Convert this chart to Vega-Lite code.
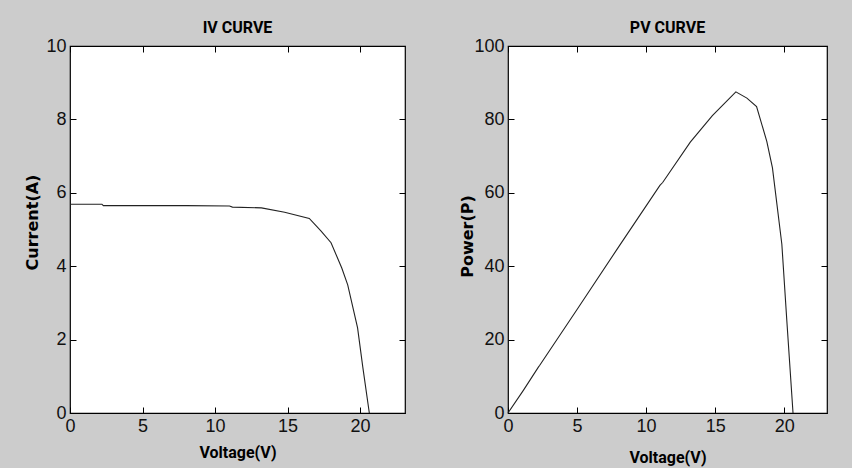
{
  "$schema": "https://vega.github.io/schema/vega-lite/v6.json",
  "background": "#cccccc",
  "padding": {"left": 24, "top": 19, "right": 25, "bottom": 2},
  "spacing": 52,
  "datasets": {
    "pv": [
      {"V": 0, "I": 5.69, "P": 0},
      {"V": 1.1, "I": 5.69, "P": 6.1},
      {"V": 2.2, "I": 5.69, "P": 12.5},
      {"V": 2.3, "I": 5.65, "P": 13.0},
      {"V": 5, "I": 5.65, "P": 28.2},
      {"V": 8, "I": 5.65, "P": 45.2},
      {"V": 11.0, "I": 5.64, "P": 62.0},
      {"V": 11.2, "I": 5.61, "P": 62.8},
      {"V": 13.2, "I": 5.59, "P": 73.8},
      {"V": 14.8, "I": 5.47, "P": 81.0},
      {"V": 16.5, "I": 5.30, "P": 87.5},
      {"V": 17.3, "I": 4.96, "P": 85.8},
      {"V": 18.0, "I": 4.64, "P": 83.5},
      {"V": 18.74, "I": 3.95, "P": 74.0},
      {"V": 19.15, "I": 3.49, "P": 66.8},
      {"V": 19.83, "I": 2.32, "P": 46.0},
      {"V": 20.19, "I": 1.25, "P": 25.2},
      {"V": 20.64, "I": 0.0, "P": 0}
    ]
  },
  "config": {
    "view": {"stroke": "#000000", "strokeWidth": 1.2, "fill": "#ffffff"},
    "axis": {
      "domain": false,
      "grid": false,
      "tickColor": "#000000",
      "tickSize": -6,
      "tickWidth": 1,
      "labelFont": "Liberation Sans",
      "labelFontSize": 18,
      "labelColor": "#111111",
      "labelPadding": 10,
      "labelFlush": false,
      "titleFont": "DejaVu Sans",
      "titleFontWeight": "bold",
      "titleFontSize": 16,
      "titleColor": "#000000"
    },
    "title": {
      "font": "Roboto",
      "fontSize": 16,
      "fontWeight": "bold",
      "color": "#000000",
      "anchor": "middle",
      "offset": 1
    }
  },
  "hconcat": [
    {
      "width": 335,
      "height": 367,
      "title": "IV CURVE",
      "data": {"name": "pv"},
      "layer": [
        {
          "mark": {"type": "line", "color": "#222222", "strokeWidth": 1.1},
          "encoding": {
            "x": {"field": "V", "type": "quantitative",
              "scale": {"domain": [0, 23.1], "nice": false, "zero": false},
              "axis": {"orient": "bottom", "values": [0, 5, 10, 15, 20], "title": "Voltage(V)",
                "titleFont": "Roboto", "titleFontSize": 16, "titlePadding": 9}},
            "y": {"field": "I", "type": "quantitative",
              "scale": {"domain": [0, 10], "nice": false},
              "axis": {"orient": "left", "values": [0, 2, 4, 6, 8, 10], "title": "Current(A)", "titlePadding": 5, "titleY": 176}}
          }
        },
        {
          "mark": {"type": "line", "opacity": 0},
          "encoding": {
            "x": {"field": "V", "type": "quantitative",
              "scale": {"domain": [0, 23.1], "nice": false, "zero": false},
              "axis": {"orient": "top", "values": [0, 5, 10, 15, 20], "labels": false, "title": null}},
            "y": {"field": "I", "type": "quantitative",
              "scale": {"domain": [0, 10], "nice": false},
              "axis": {"orient": "right", "values": [0, 2, 4, 6, 8, 10], "labels": false, "title": null}}
          }
        }
      ],
      "resolve": {"axis": {"x": "independent", "y": "independent"}}
    },
    {
      "width": 319,
      "height": 367,
      "title": "PV CURVE",
      "data": {"name": "pv"},
      "layer": [
        {
          "mark": {"type": "line", "color": "#222222", "strokeWidth": 1.1},
          "encoding": {
            "x": {"field": "V", "type": "quantitative",
              "scale": {"domain": [0, 23.1], "nice": false, "zero": false},
              "axis": {"orient": "bottom", "values": [0, 5, 10, 15, 20], "title": "Voltage(V)",
                "titleFont": "Roboto", "titleFontSize": 16, "titlePadding": 14}},
            "y": {"field": "P", "type": "quantitative",
              "scale": {"domain": [0, 100], "nice": false},
              "axis": {"orient": "left", "values": [0, 20, 40, 60, 80, 100], "title": "Power(P)", "titlePadding": -2, "titleY": 190}}
          }
        },
        {
          "mark": {"type": "line", "opacity": 0},
          "encoding": {
            "x": {"field": "V", "type": "quantitative",
              "scale": {"domain": [0, 23.1], "nice": false, "zero": false},
              "axis": {"orient": "top", "values": [0, 5, 10, 15, 20], "labels": false, "title": null}},
            "y": {"field": "P", "type": "quantitative",
              "scale": {"domain": [0, 100], "nice": false},
              "axis": {"orient": "right", "values": [0, 20, 40, 60, 80, 100], "labels": false, "title": null}}
          }
        }
      ],
      "resolve": {"axis": {"x": "independent", "y": "independent"}}
    }
  ]
}
